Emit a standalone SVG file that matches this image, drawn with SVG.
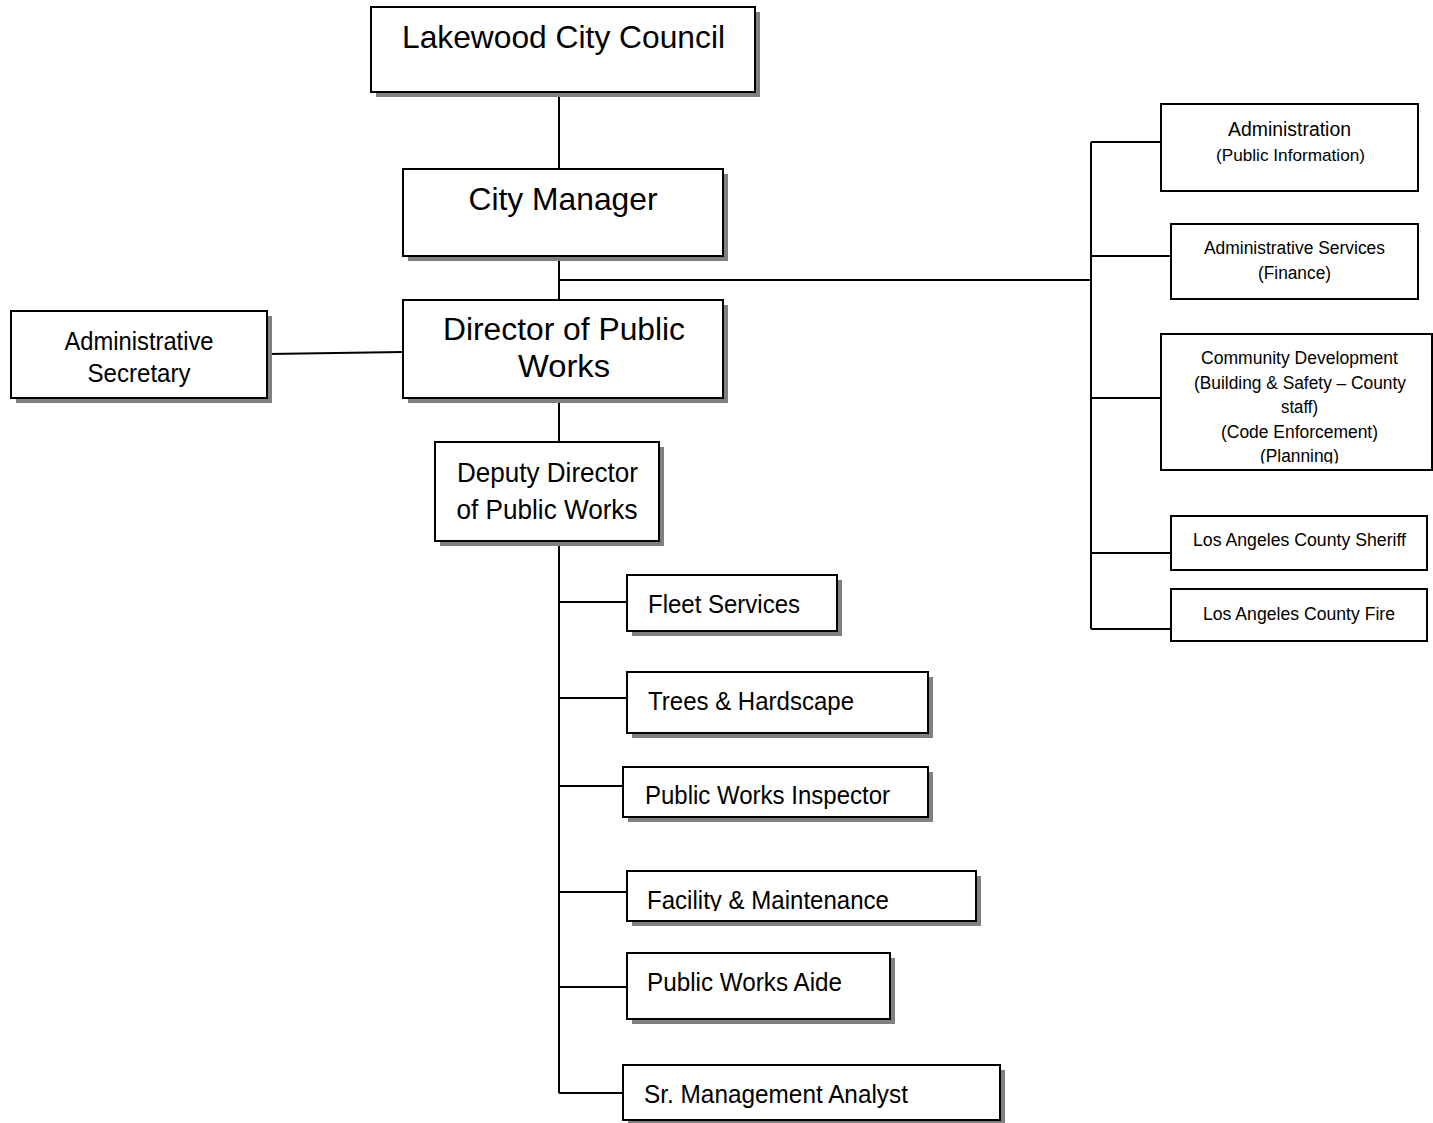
<svg xmlns="http://www.w3.org/2000/svg" width="1433" height="1123" viewBox="0 0 1433 1123">
<style>
.bg{fill:#ffffff}
.sh{fill:#808080;stroke:none}
.bx{fill:#ffffff;stroke:#000000;stroke-width:2}
.ln{fill:none;stroke:#000000;stroke-width:2}
text{font-family:"Liberation Sans",Arial,sans-serif;fill:#000000}
.c{text-anchor:middle}
.big{font-size:31.5px}
.dir{font-size:31px}
.mid{font-size:28px}
.sec{font-size:25px}
.lft{font-size:26px}
.r20{font-size:20px}
.r18{font-size:18px}
.r17{font-size:17px}
</style>
<defs>
<clipPath id="clipPlan"><rect x="1161" y="334" width="271" height="129.5"/></clipPath>
<clipPath id="clipFac"><rect x="627" y="871" width="349" height="40"/></clipPath>
</defs>
<rect class="bg" x="0" y="0" width="1433" height="1123"/>

<g id="connectors">
<path class="ln" d="M559,92 V169"/>
<path class="ln" d="M559,256 V300"/>
<path class="ln" d="M559,280 H1091"/>
<path class="ln" d="M1091,142 V629"/>
<path class="ln" d="M1091,142 H1161"/>
<path class="ln" d="M1091,256 H1171"/>
<path class="ln" d="M1091,398 H1161"/>
<path class="ln" d="M1091,553 H1171"/>
<path class="ln" d="M1091,629 H1171"/>
<path class="ln" d="M268,354 L403,352"/>
<path class="ln" d="M559,398 V442"/>
<path class="ln" d="M559,541 V1093"/>
<path class="ln" d="M559,602 H627"/>
<path class="ln" d="M559,698 H627"/>
<path class="ln" d="M559,786 H623"/>
<path class="ln" d="M559,892 H627"/>
<path class="ln" d="M559,987 H627"/>
<path class="ln" d="M559,1093 H623"/>
</g>

<g id="council">
<rect class="sh" x="376" y="12" width="384" height="85"/>
<rect class="bx" x="371" y="7" width="384" height="85"/>
<text class="big c" x="563.5" y="48" textLength="323" lengthAdjust="spacingAndGlyphs">Lakewood City Council</text>
</g>

<g id="city-manager">
<rect class="sh" x="408" y="174" width="320" height="87"/>
<rect class="bx" x="403" y="169" width="320" height="87"/>
<text class="big c" x="563" y="210" textLength="189" lengthAdjust="spacingAndGlyphs">City Manager</text>
</g>

<g id="director">
<rect class="sh" x="408" y="305" width="320" height="98"/>
<rect class="bx" x="403" y="300" width="320" height="98"/>
<text class="dir c" x="564" y="340" textLength="242" lengthAdjust="spacingAndGlyphs">Director of Public</text>
<text class="dir c" x="564" y="377" textLength="92" lengthAdjust="spacingAndGlyphs">Works</text>
</g>

<g id="admin-secretary">
<rect class="sh" x="16" y="316" width="256" height="87"/>
<rect class="bx" x="11" y="311" width="256" height="87"/>
<text class="sec c" x="139" y="350" textLength="149" lengthAdjust="spacingAndGlyphs">Administrative</text>
<text class="sec c" x="139" y="382" textLength="103" lengthAdjust="spacingAndGlyphs">Secretary</text>
</g>

<g id="deputy-director">
<rect class="sh" x="440" y="447" width="224" height="99"/>
<rect class="bx" x="435" y="442" width="224" height="99"/>
<text class="mid c" x="547.5" y="482" textLength="181" lengthAdjust="spacingAndGlyphs">Deputy Director</text>
<text class="mid c" x="547" y="519" textLength="181" lengthAdjust="spacingAndGlyphs">of Public Works</text>
</g>

<g id="fleet-services">
<rect class="sh" x="632" y="580" width="210" height="56"/>
<rect class="bx" x="627" y="575" width="210" height="56"/>
<text class="lft" x="648" y="613" textLength="152" lengthAdjust="spacingAndGlyphs">Fleet Services</text>
</g>

<g id="trees-hardscape">
<rect class="sh" x="632" y="677" width="301" height="61"/>
<rect class="bx" x="627" y="672" width="301" height="61"/>
<text class="lft" x="648" y="710" textLength="206" lengthAdjust="spacingAndGlyphs">Trees &amp; Hardscape</text>
</g>

<g id="pw-inspector">
<rect class="sh" x="628" y="772" width="305" height="50"/>
<rect class="bx" x="623" y="767" width="305" height="50"/>
<text class="lft" x="645" y="804" textLength="245" lengthAdjust="spacingAndGlyphs">Public Works Inspector</text>
</g>

<g id="facility-maintenance">
<rect class="sh" x="632" y="876" width="349" height="50"/>
<rect class="bx" x="627" y="871" width="349" height="50"/>
<text class="lft" x="647" y="909" textLength="242" lengthAdjust="spacingAndGlyphs" clip-path="url(#clipFac)">Facility &amp; Maintenance</text>
</g>

<g id="pw-aide">
<rect class="sh" x="632" y="958" width="263" height="66"/>
<rect class="bx" x="627" y="953" width="263" height="66"/>
<text class="lft" x="647" y="991" textLength="195" lengthAdjust="spacingAndGlyphs">Public Works Aide</text>
</g>

<g id="sr-analyst">
<rect class="sh" x="628" y="1070" width="377" height="55"/>
<rect class="bx" x="623" y="1065" width="377" height="55"/>
<text class="lft" x="644" y="1103" textLength="264" lengthAdjust="spacingAndGlyphs">Sr. Management Analyst</text>
</g>

<g id="administration">
<rect class="bx" x="1161" y="104" width="257" height="87"/>
<text class="r20 c" x="1289.5" y="136" textLength="123" lengthAdjust="spacingAndGlyphs">Administration</text>
<text class="r17 c" x="1290.5" y="161" textLength="149" lengthAdjust="spacingAndGlyphs">(Public Information)</text>
</g>

<g id="admin-services">
<rect class="bx" x="1171" y="224" width="247" height="75"/>
<text class="r18 c" x="1294.5" y="254" textLength="181" lengthAdjust="spacingAndGlyphs">Administrative Services</text>
<text class="r18 c" x="1294.5" y="279" textLength="73" lengthAdjust="spacingAndGlyphs">(Finance)</text>
</g>

<g id="community-development">
<rect class="bx" x="1161" y="334" width="271" height="136"/>
<text class="r18 c" x="1299.5" y="364" textLength="197" lengthAdjust="spacingAndGlyphs">Community Development</text>
<text class="r18 c" x="1300" y="388.5" textLength="212" lengthAdjust="spacingAndGlyphs">(Building &amp; Safety – County</text>
<text class="r18 c" x="1299.5" y="413" textLength="37" lengthAdjust="spacingAndGlyphs">staff)</text>
<text class="r18 c" x="1299.5" y="437.5" textLength="157" lengthAdjust="spacingAndGlyphs">(Code Enforcement)</text>
<text class="r18 c" x="1299.5" y="462" textLength="79" lengthAdjust="spacingAndGlyphs" clip-path="url(#clipPlan)">(Planning)</text>
</g>

<g id="la-sheriff">
<rect class="bx" x="1171" y="516" width="256" height="54"/>
<text class="r18 c" x="1299.5" y="546" textLength="213" lengthAdjust="spacingAndGlyphs">Los Angeles County Sheriff</text>
</g>

<g id="la-fire">
<rect class="bx" x="1171" y="589" width="256" height="52"/>
<text class="r18 c" x="1299" y="620" textLength="192" lengthAdjust="spacingAndGlyphs">Los Angeles County Fire</text>
</g>
</svg>
